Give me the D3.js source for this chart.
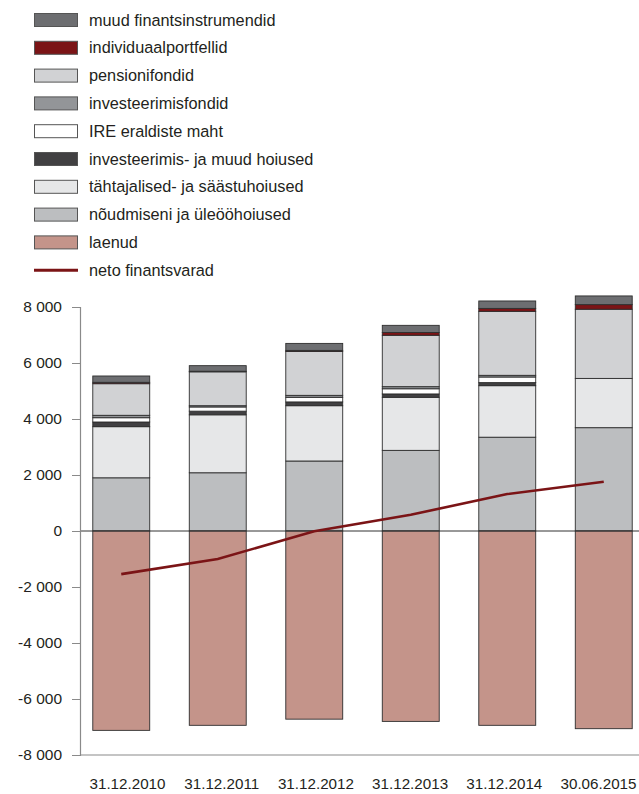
<!DOCTYPE html>
<html><head><meta charset="utf-8">
<script src="https://cdn.jsdelivr.net/npm/d3@7"></script>
<style>body{margin:0;background:#fff}svg{display:block}text{font-family:"Liberation Sans",Arial,sans-serif;fill:#231f20}</style>
</head><body><svg id="c" width="639" height="794"></svg>
<script>
const categories = ["31.12.2010","31.12.2011","31.12.2012","31.12.2013","31.12.2014","30.06.2015"];
const noudmiseni   = [1900, 2080, 2500, 2880, 3350, 3690];
const tahtajalised = [1826, 2070, 1975, 1895, 1840, 1760];
const invHoiused   = [167, 130, 135, 120, 110, 0];
const ire          = [153, 150, 165, 185, 200, 0];
const invFondid    = [86, 45, 70, 75, 60, 0];
const pension      = [1129, 1210, 1565, 1835, 2285, 2470];
const individ      = [49, 20, 40, 100, 105, 165];
const muud         = [226, 200, 250, 255, 265, 310];
const laenud       = [-7120, -6940, -6720, -6800, -6940, -7060];
const neto         = [-1540, -1000, -10, 580, 1320, 1760];
const yTicks = [-8000,-6000,-4000,-2000,0,2000,4000,6000,8000];

const series = [
  {key:"muud", label:"muud finantsinstrumendid", values:muud, color:"#6d6e71"},
  {key:"individ", label:"individuaalportfellid", values:individ, color:"#7b1416"},
  {key:"pension", label:"pensionifondid", values:pension, color:"#d1d2d4"},
  {key:"invFondid", label:"investeerimisfondid", values:invFondid, color:"#939598"},
  {key:"ire", label:"IRE eraldiste maht", values:ire, color:"#ffffff"},
  {key:"invHoiused", label:"investeerimis- ja muud hoiused", values:invHoiused, color:"#414042"},
  {key:"taht", label:"tähtajalised- ja säästuhoiused", values:tahtajalised, color:"#e6e7e8"},
  {key:"noud", label:"nõudmiseni ja üleööhoiused", values:noudmiseni, color:"#bcbec0"},
  {key:"laenud", label:"laenud", values:laenud, color:"#c4948a"}
];
const lineColor = "#7b1416";

const svg = d3.select("#c");
const x = d3.scaleBand().domain(categories).range([73, 652]).paddingInner(0.41).paddingOuter(0.205);
const xLab = d3.scalePoint().domain(categories).range([127, 598]);
const y = d3.scaleLinear().domain([-8000, 8000]).range([755, 307]);

const rows = categories.map((c,i)=>{const r={cat:c}; series.forEach(s=>r[s.key]=s.values[i]); return r;});
const stackKeys = ["noud","taht","invHoiused","ire","invFondid","pension","individ","muud","laenud"];
const stacked = d3.stack().keys(stackKeys).offset(d3.stackOffsetDiverging)(rows);
const colorOf = Object.fromEntries(series.map(s=>[s.key,s.color]));

const g = svg.append("g");
stacked.forEach(layer=>{
  g.selectAll(null).data(layer.filter(d=>d[1]!==d[0])).enter().append("rect")
    .attr("x", d=>x(d.data.cat))
    .attr("width", x.bandwidth())
    .attr("y", d=>y(Math.max(d[0],d[1])))
    .attr("height", d=>Math.abs(y(d[0])-y(d[1])))
    .attr("fill", colorOf[layer.key])
    .attr("stroke", "#2e2e2e").attr("stroke-width", 0.9);
});

// zero line
svg.append("line").attr("x1",80).attr("x2",639).attr("y1",y(0)).attr("y2",y(0)).attr("stroke","#333").attr("stroke-width",1);
// bottom axis line
svg.append("line").attr("x1",80).attr("x2",639).attr("y1",y(-8000)).attr("y2",y(-8000)).attr("stroke","#8a8a8a").attr("stroke-width",1.2);

// y axis
const loc = d3.formatLocale({decimal:",", thousands:" ", grouping:[3], currency:["",""], minus:"-"});
const yAxis = d3.axisLeft(y).tickValues(yTicks).tickFormat(loc.format(",")).tickSize(8).tickPadding(10);
const ya = svg.append("g").attr("transform","translate(80,0)").call(yAxis);
ya.select(".domain").attr("stroke","#8a8a8a").attr("stroke-width",1.2);
ya.selectAll(".tick line").attr("stroke","#8a8a8a");
ya.selectAll("text").attr("font-size",15.5).attr("font-family","Liberation Sans, Arial, sans-serif").attr("fill","#231f20");

// x labels
const xAxis = d3.axisBottom(xLab).tickSize(0).tickPadding(0);
const xa = svg.append("g").attr("transform","translate(0,"+(y(-8000))+")").call(xAxis);
xa.select(".domain").remove();
xa.selectAll("text").attr("font-size",15.2).attr("dy","2.25em").attr("font-family","Liberation Sans, Arial, sans-serif").attr("fill","#231f20");

// neto line
const line = d3.line().x((d,i)=>x(categories[i])+x.bandwidth()/2).y(d=>y(d));
svg.append("path").datum(neto).attr("d",line).attr("fill","none").attr("stroke",lineColor).attr("stroke-width",2.6);

// legend
const leg = svg.append("g");
const step = 27.8, top0 = 20;
series.forEach((s,i)=>{
  const cy = top0 + i*step;
  leg.append("rect").attr("x",34.5).attr("y",cy-6.5).attr("width",43).attr("height",13)
    .attr("fill",s.color).attr("stroke","#555").attr("stroke-width",1);
  leg.append("text").attr("x",89).attr("y",cy+5.5).attr("font-size",16.3).text(s.label);
});
const ly = top0 + series.length*step;
leg.append("line").attr("x1",34).attr("x2",78).attr("y1",ly).attr("y2",ly).attr("stroke",lineColor).attr("stroke-width",3);
leg.append("text").attr("x",89).attr("y",ly+5.5).attr("font-size",16.3).text("neto finantsvarad");
</script></body></html>
